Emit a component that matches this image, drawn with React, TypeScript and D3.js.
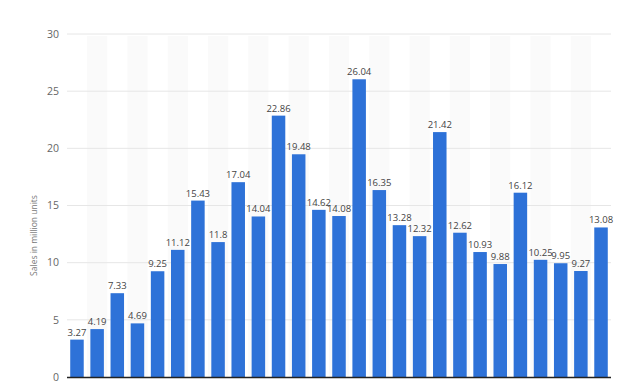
import React from "react";
import * as d3 from "d3";

const categories = Array.from({ length: 27 }, (_, i) => `C${i + 1}`);
const values = [3.27, 4.19, 7.33, 4.69, 9.25, 11.12, 15.43, 11.8, 17.04, 14.04, 22.86, 19.48, 14.62, 14.08, 26.04, 16.35, 13.28, 12.32, 21.42, 12.62, 10.93, 9.88, 16.12, 10.25, 9.95, 9.27, 13.08];
const yTicks = [0, 5, 10, 15, 20, 25, 30];
const yTitle = "Sales in million units";

export default function App() {
  const W = 630, H = 383;
  const left = 67, right = 611, top = 34, bottom = 377;
  const x = d3.scaleBand<string>().domain(categories).range([left, right]).paddingInner(0.33).paddingOuter(0.16);
  const xb = d3.scaleBand<string>().domain(categories).range([left, right]);
  const y = d3.scaleLinear().domain([0, 30]).range([bottom, top]);
  return (
    <svg width={W} height={H} style={{ position: "absolute", left: 0, top: 0, background: "#fff" }} fontFamily="'Open Sans', 'DejaVu Sans', sans-serif">
      {categories.map((c, i) => i % 2 === 1 ? (
        <rect key={"s" + c} x={xb(c)} y={top + 2} width={xb.bandwidth()} height={bottom - top - 2} fill="#fafafa" />
      ) : null)}
      {yTicks.map(t => (
        <g key={t}>
          {t > 0 && <line x1={left} x2={right} y1={y(t)} y2={y(t)} stroke="#e6e6e6" strokeWidth={1} />}
          <text x={59} y={y(t)} dy="0.35em" textAnchor="end" fontSize={10.5} fill="#666">{t}</text>
        </g>
      ))}
      <text transform={`translate(37,${(top + bottom) / 2 + 30}) rotate(-90)`} textAnchor="middle" fontSize={8.5} fill="#777">{yTitle}</text>
      {categories.map((c, i) => (
        <g key={c}>
          <rect x={x(c)} y={y(values[i])} width={x.bandwidth()} height={bottom - y(values[i])} fill="#2e72d8" />
          <text x={(x(c) as number) + x.bandwidth() / 2} y={y(values[i]) - 4} textAnchor="middle" fontSize={9.5} fill="#444">{values[i]}</text>
        </g>
      ))}
      <line x1={left} x2={right} y1={bottom + 0.5} y2={bottom + 0.5} stroke="#222" strokeWidth={1.5} />
    </svg>
  );
}
